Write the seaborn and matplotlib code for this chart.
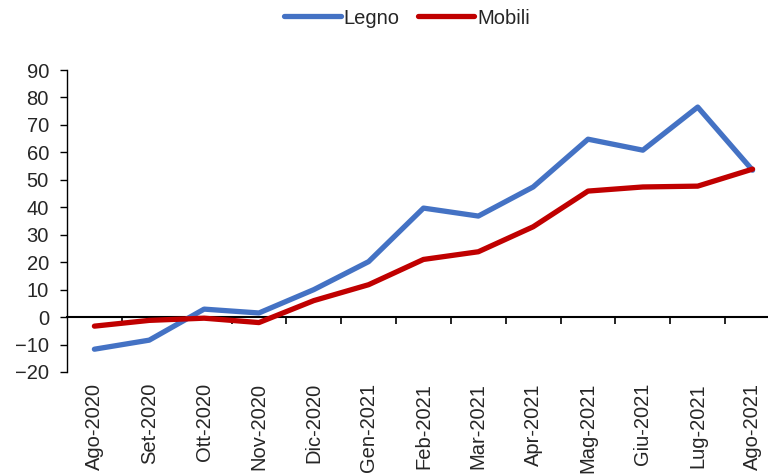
import numpy as np
import pandas as pd
import matplotlib
matplotlib.use("Agg")
import matplotlib.pyplot as plt
import seaborn as sns

# dati (variazioni %)
mesi = ["Ago-2020", "Set-2020", "Ott-2020", "Nov-2020", "Dic-2020", "Gen-2021",
        "Feb-2021", "Mar-2021", "Apr-2021", "Mag-2021", "Giu-2021", "Lug-2021", "Ago-2021"]
legno = [-11.7, -8.4, 2.9, 1.5, 10.0, 20.2, 39.7, 36.8, 47.4, 64.8, 60.8, 76.5, 53.5]
mobili = [-3.3, -1.2, -0.4, -2.0, 6.0, 11.8, 21.0, 23.8, 32.9, 45.9, 47.4, 47.7, 53.9]

df = pd.DataFrame({"mese": mesi * 2,
                   "valore": legno + mobili,
                   "serie": ["Legno"] * len(mesi) + ["Mobili"] * len(mesi)})
df["pos"] = list(range(len(mesi))) * 2

sns.set_style("white")
plt.rcParams["font.family"] = ["Liberation Sans", "DejaVu Sans"]

fig = plt.figure(figsize=(7.68, 4.74), dpi=100)
ax = fig.add_axes([0.0872, 0.2152, 0.9284, 0.6371])

sns.lineplot(data=df, x="pos", y="valore", hue="serie",
             palette={"Legno": "#4472C4", "Mobili": "#C00000"},
             linewidth=3.8, ax=ax, legend=False)

ax.set_xlim(-0.5, len(mesi) - 0.5)
ax.set_ylim(-20, 90)
ax.set_yticks(np.arange(-20, 91, 10))
ax.set_xlabel("")
ax.set_ylabel("")

for s in ["top", "right", "bottom"]:
    ax.spines[s].set_visible(False)
ax.spines["left"].set_color("black")
ax.spines["left"].set_linewidth(1.0)

ax.tick_params(axis="y", direction="out", length=5, width=1, color="black",
               labelsize=14.5, pad=8, left=True)
ax.set_xticks(range(len(mesi)))
ax.set_xticklabels(mesi, rotation=90, fontsize=14.5)
ax.tick_params(axis="x", length=0, pad=8)

# asse orizzontale sullo zero con tacche tra le categorie
sec = ax.secondary_xaxis(0, transform=ax.transData)
sec.spines["bottom"].set_linewidth(1.5)
sec.spines["bottom"].set_color("black")
sec.set_xticks(np.arange(0.5, len(mesi), 1.0))
sec.set_xticklabels([])
sec.tick_params(direction="out", length=5, width=1.2, color="black")

handles = [plt.Line2D([], [], color="#4472C4", lw=3.8),
           plt.Line2D([], [], color="#C00000", lw=3.8)]
fig.legend(handles, ["Legno", "Mobili"], loc="center", bbox_to_anchor=(0.53, 0.962),
           ncol=2, frameon=False, fontsize=14.5, handlelength=2.8,
           handletextpad=0.15, columnspacing=0.9)

fig.savefig("out.png", dpi=100)
